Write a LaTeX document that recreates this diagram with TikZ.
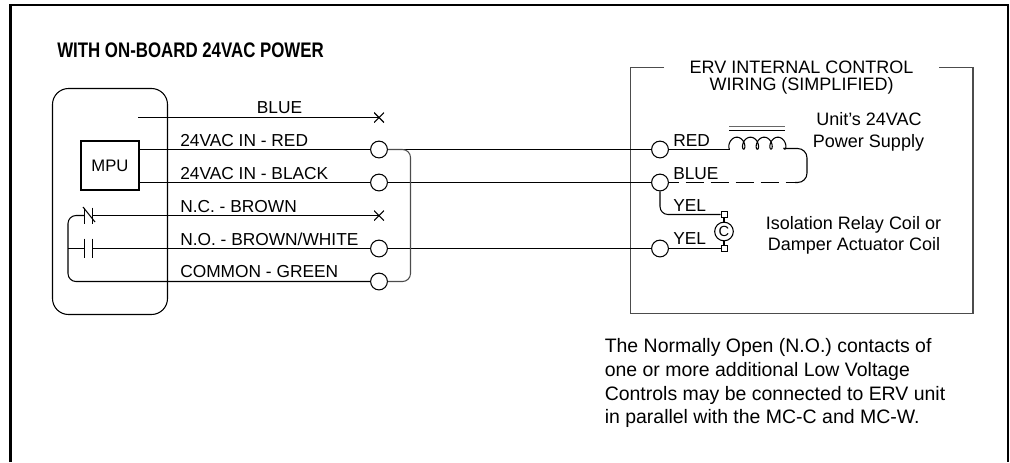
\documentclass[tikz,border=0pt]{standalone}
\usepackage{fontspec}
\setmainfont{Liberation Sans}
\newfontfamily\titlefont[FakeStretch=0.8]{Liberation Sans}
\usetikzlibrary{positioning}
\tikzset{
    wire/.style={line width=0.8pt},
    term/.style={circle,draw,line width=0.8pt,fill=white,inner sep=0pt,minimum size=12.6pt},
    lug/.style={rectangle,draw,line width=0.6pt,fill=white,inner sep=0pt,minimum size=4.6pt},
    lbl/.style={inner sep=0pt,font=\fontsize{13}{15}\selectfont},
    big/.style={inner sep=0pt,font=\fontsize{13.5}{15}\selectfont},
    cross/.style={inner sep=0pt,minimum size=7.5pt,path picture={
        \draw[line width=0.8pt] (path picture bounding box.north west)--(path picture bounding box.south east);
        \draw[line width=0.8pt] (path picture bounding box.north east)--(path picture bounding box.south west);}},
}
\begin{document}
\begin{tikzpicture}[x=0.75pt,y=-0.75pt]
\useasboundingbox (0,0) rectangle (1010,462);
\draw[line width=2.2pt] (10.5,462)--(10.5,5)--(1008,5)--(1008,462);
\node[inner sep=0pt,anchor=base west,font=\fontsize{15.8}{17}\titlefont\bfseries] (title) at (57,57.3) {WITH ON-BOARD 24VAC POWER};
\draw[wire,rounded corners=12pt] (52.5,88.5) rectangle (167.5,314.5);
\node[draw,wire,minimum width=43.5pt,minimum height=36.75pt,inner sep=0pt,font=\fontsize{12.5}{14}\selectfont] (mpu) at (110,165.5) {MPU};
% terminals on the left
\foreach \name/\yy in {tred/149.5,tblack/182.5,tno/248.5,tcom/281.5}
    \node[term] (\name) at (379,\yy) {};
\node[cross] (xblue) at (379,117.5) {};
\node[cross] (xnc) at (379,215.5) {};
\coordinate (blue0) at (138,117.5);
\draw[wire] (blue0)--(xblue.center);
\draw[wire] (mpu.east |- tred)--(tred);
\draw[wire] (mpu.east |- tblack)--(tblack);
\coordinate (rail) at (68,248.5);
\coordinate (nc1) at (84.5,215.5);
\coordinate (nc2) at (92.5,215.5);
\coordinate (no1) at (84.5,248.5);
\coordinate (no2) at (92.5,248.5);
\draw[wire,rounded corners=6pt] (nc1)--(68,215.5)--(68,281.5)--(tcom);
\draw[wire] (nc2)--(xnc.center);
\draw[wire] (rail)--(no1);
\draw[wire] (no2)--(tno);
\draw[wire] (84.5,207.5)--(84.5,224);
\draw[wire] (92.5,207.5)--(92.5,224);
\draw[wire] (83,207)--(95,222);
\draw[wire] (84.5,238.5)--(84.5,258);
\draw[wire] (92.5,238.5)--(92.5,258);
\node[lbl,anchor=base] (lblue) at (279.5,113.3) {BLUE};
\node[lbl,anchor=base west] (lred) at (180,146) {24VAC IN - RED};
\node[lbl,anchor=base west] (lblack) at (180,179) {24VAC IN - BLACK};
\node[lbl,anchor=base west] (lnc) at (180,212) {N.C. - BROWN};
\node[lbl,anchor=base west] (lno) at (180,245) {N.O. - BROWN/WHITE};
\node[lbl,anchor=base west] (lcom) at (180,277.7) {COMMON - GREEN};
% right box
\draw[wire,black!70] (664,67.5)--(630.5,67.5)--(630.5,313.5)--(973,313.5)--(973,67.5)--(939,67.5);
\node[big,anchor=base] (erv1) at (801.5,73) {ERV INTERNAL CONTROL};
\node[big,anchor=base] (erv2) at (801.5,90.5) {WIRING (SIMPLIFIED)};
\foreach \name/\yy in {ured/149.5,ublue/182.5,uyel/248.5}
    \node[term] (\name) at (660,\yy) {};
\draw[wire] (tred)--(ured);
\draw[wire] (tblack)--(ublue);
\draw[wire] (tno)--(uyel);
\draw[wire,black!70,rounded corners=6pt] (tred.east)--(410.5,149.5)--(410.5,281.5)--(tcom.east);
\node[lbl,anchor=base west] (lured) at (673,146) {RED};
\node[lbl,anchor=base west] (lublue) at (673,179) {BLUE};
\node[lbl,anchor=base west] (luyel) at (673,211) {YEL};
\node[lbl,anchor=base west] (lyel2) at (673,244) {YEL};
% coil
\coordinate (coil0) at (730,149.5);
\draw[line width=1.1pt,black!60] (729,126.5)--(785,126.5);
\draw[line width=0.7pt] (729,130.5)--(785,130.5);
\draw[wire] (ured)--(coil0);
\draw[wire,samples=160,domain=20:1480,variable=\t] plot ({730+0.038*\t-4*sin(\t)},{143.2+6*cos(\t)});
\draw[wire,rounded corners=7pt] (784,148.5)--(807,148.5)--(807,182.5)--(795,182.5);
\draw[wire,dash pattern=on 13.5pt off 5.25pt,dash phase=6.3pt] (ublue.east)--(795,182.5);
% relay
\node[lug] (lug1) at (724,214.5) {};
\node[lug] (lug2) at (724,248.5) {};
\node[circle,draw,wire,fill=white,minimum size=14pt,inner sep=0pt,font=\fontsize{11}{12}\selectfont] (relay) at (724,231.5) {C};
\draw[wire] (lug1)--(relay);
\draw[wire] (lug2)--(relay);
\draw[wire] (uyel)--(lug2);
\draw[wire,rounded corners=6pt] (ublue.south)--(660,214.5)--(lug1);
\node[big,anchor=base] (supply) at (869,125) {Unit's 24VAC};
\node[big,anchor=base] (supply2) at (868.5,147) {Power Supply};
\node[big,anchor=base] (iso1) at (853.5,229) {Isolation Relay Coil or};
\node[big,anchor=base] (iso2) at (854,250.7) {Damper Actuator Coil};
\foreach \i/\yy/\txt in {1/352.7/The Normally Open (N.O.) contacts of,2/376/one or more additional Low Voltage,3/400/Controls may be connected to ERV unit,4/423.5/in parallel with the MC-C and MC-W.}
    \node[inner sep=0pt,anchor=base west,font=\fontsize{14.6}{16}\selectfont] (note\i) at (604.5,\yy) {\txt};
\end{tikzpicture}
\end{document}
